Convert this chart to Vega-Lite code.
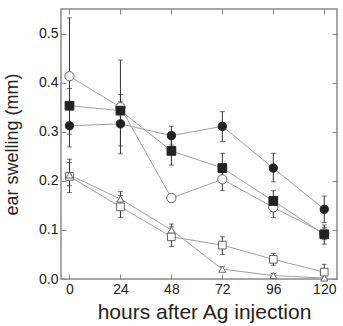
{
  "$schema": "https://vega.github.io/schema/vega-lite/v6.json",
  "width": 276,
  "height": 270,
  "autosize": {"type": "none"},
  "padding": {"left": 61, "top": 9, "right": 6, "bottom": 47},
  "background": "white",
  "config": {
    "view": {"stroke": "#8a8a8a", "strokeWidth": 1.5},
    "axis": {"grid": false, "domain": false, "labelFont": "Liberation Sans", "titleFont": "Liberation Sans", "labelColor": "#222", "titleColor": "#222", "tickColor": "#888", "tickWidth": 1}
  },
  "data": {
    "values": [
      {"h": 0, "s": "A", "m": 0.413, "lo": 0.295, "hi": 0.532},
      {"h": 24, "s": "A", "m": 0.350, "lo": 0.255, "hi": 0.446},
      {"h": 48, "s": "A", "m": 0.165, "lo": 0.157, "hi": 0.173},
      {"h": 72, "s": "A", "m": 0.203, "lo": 0.180, "hi": 0.226},
      {"h": 96, "s": "A", "m": 0.146, "lo": 0.125, "hi": 0.167},
      {"h": 120, "s": "A", "m": 0.093, "lo": 0.080, "hi": 0.105},
      {"h": 0, "s": "B", "m": 0.353, "lo": 0.318, "hi": 0.388},
      {"h": 24, "s": "B", "m": 0.343, "lo": 0.310, "hi": 0.376},
      {"h": 48, "s": "B", "m": 0.261, "lo": 0.232, "hi": 0.290},
      {"h": 72, "s": "B", "m": 0.226, "lo": 0.196, "hi": 0.256},
      {"h": 96, "s": "B", "m": 0.159, "lo": 0.138, "hi": 0.180},
      {"h": 120, "s": "B", "m": 0.091, "lo": 0.071, "hi": 0.110},
      {"h": 0, "s": "C", "m": 0.312, "lo": 0.269, "hi": 0.355},
      {"h": 24, "s": "C", "m": 0.316, "lo": 0.271, "hi": 0.361},
      {"h": 48, "s": "C", "m": 0.292, "lo": 0.273, "hi": 0.311},
      {"h": 72, "s": "C", "m": 0.311, "lo": 0.280, "hi": 0.341},
      {"h": 96, "s": "C", "m": 0.226, "lo": 0.198, "hi": 0.256},
      {"h": 120, "s": "C", "m": 0.142, "lo": 0.115, "hi": 0.169},
      {"h": 0, "s": "D", "m": 0.209, "lo": 0.176, "hi": 0.244},
      {"h": 24, "s": "D", "m": 0.147, "lo": 0.125, "hi": 0.170},
      {"h": 48, "s": "D", "m": 0.086, "lo": 0.066, "hi": 0.106},
      {"h": 72, "s": "D", "m": 0.069, "lo": 0.050, "hi": 0.086},
      {"h": 96, "s": "D", "m": 0.040, "lo": 0.028, "hi": 0.052},
      {"h": 120, "s": "D", "m": 0.014, "lo": 0.000, "hi": 0.030},
      {"h": 0, "s": "E", "m": 0.212, "lo": 0.190, "hi": 0.237},
      {"h": 24, "s": "E", "m": 0.163, "lo": 0.150, "hi": 0.178},
      {"h": 48, "s": "E", "m": 0.100, "lo": 0.090, "hi": 0.112},
      {"h": 72, "s": "E", "m": 0.020, "lo": 0.015, "hi": 0.025},
      {"h": 96, "s": "E", "m": 0.007, "lo": 0.003, "hi": 0.011},
      {"h": 120, "s": "E", "m": 0.002, "lo": 0.000, "hi": 0.004}
    ]
  },
  "resolve": {"axis": {"x": "independent", "y": "independent"}},
  "layer": [
    {
      "mark": {"type": "line", "color": "#a0a0a0", "strokeWidth": 1},
      "encoding": {
        "x": {"field": "h", "type": "quantitative", "scale": {"domain": [-4, 126], "nice": false, "zero": false},
          "axis": {"orient": "bottom", "values": [0, 24, 48, 72, 96, 120], "tickSize": -5, "labelPadding": 8, "labelFontSize": 14, "title": "hours after Ag injection", "titleFontSize": 21, "titleFontWeight": "normal", "titleY": 22, "titleX": 143}},
        "y": {"field": "m", "type": "quantitative", "scale": {"domain": [0, 0.55], "nice": false},
          "axis": {"orient": "left", "values": [0, 0.1, 0.2, 0.3, 0.4, 0.5], "format": ".1f", "tickSize": -5, "labelPadding": 8, "labelFontSize": 14, "title": "ear swelling (mm)", "titleFontSize": 18, "titleFontWeight": "normal", "titleX": -40}},
        "detail": {"field": "s"}
      }
    },
    {
      "mark": {"type": "rule", "color": "#333", "strokeWidth": 1},
      "encoding": {
        "x": {"field": "h", "type": "quantitative", "axis": null},
        "y": {"field": "lo", "type": "quantitative", "axis": null},
        "y2": {"field": "hi"}
      }
    },
    {
      "mark": {"type": "tick", "color": "#333", "orient": "horizontal", "size": 5, "thickness": 1},
      "encoding": {
        "x": {"field": "h", "type": "quantitative", "axis": null},
        "y": {"field": "lo", "type": "quantitative", "axis": null}
      }
    },
    {
      "mark": {"type": "tick", "color": "#333", "orient": "horizontal", "size": 5, "thickness": 1},
      "encoding": {
        "x": {"field": "h", "type": "quantitative", "axis": null},
        "y": {"field": "hi", "type": "quantitative", "axis": null}
      }
    },
    {
      "mark": {"type": "point", "filled": true, "strokeWidth": 1, "opacity": 1},
      "encoding": {
        "x": {"field": "h", "type": "quantitative",
          "axis": {"orient": "top", "values": [0, 24, 48, 72, 96, 120], "tickSize": -5, "labels": false, "title": null}},
        "y": {"field": "m", "type": "quantitative",
          "axis": {"orient": "right", "values": [0, 0.1, 0.2, 0.3, 0.4, 0.5], "tickSize": -5, "labels": false, "title": null}},
        "shape": {"field": "s", "type": "nominal", "legend": null,
          "scale": {"domain": ["A", "B", "C", "D", "E"], "range": ["circle", "square", "circle", "square", "triangle-up"]}},
        "fill": {"field": "s", "type": "nominal", "legend": null,
          "scale": {"domain": ["A", "B", "C", "D", "E"], "range": ["white", "#222", "#222", "white", "white"]}},
        "stroke": {"field": "s", "type": "nominal", "legend": null,
          "scale": {"domain": ["A", "B", "C", "D", "E"], "range": ["#666", "#222", "#222", "#666", "#666"]}},
        "size": {"field": "s", "type": "nominal", "legend": null,
          "scale": {"domain": ["A", "B", "C", "D", "E"], "range": [85, 50, 60, 55, 45]}}
      }
    }
  ]
}
